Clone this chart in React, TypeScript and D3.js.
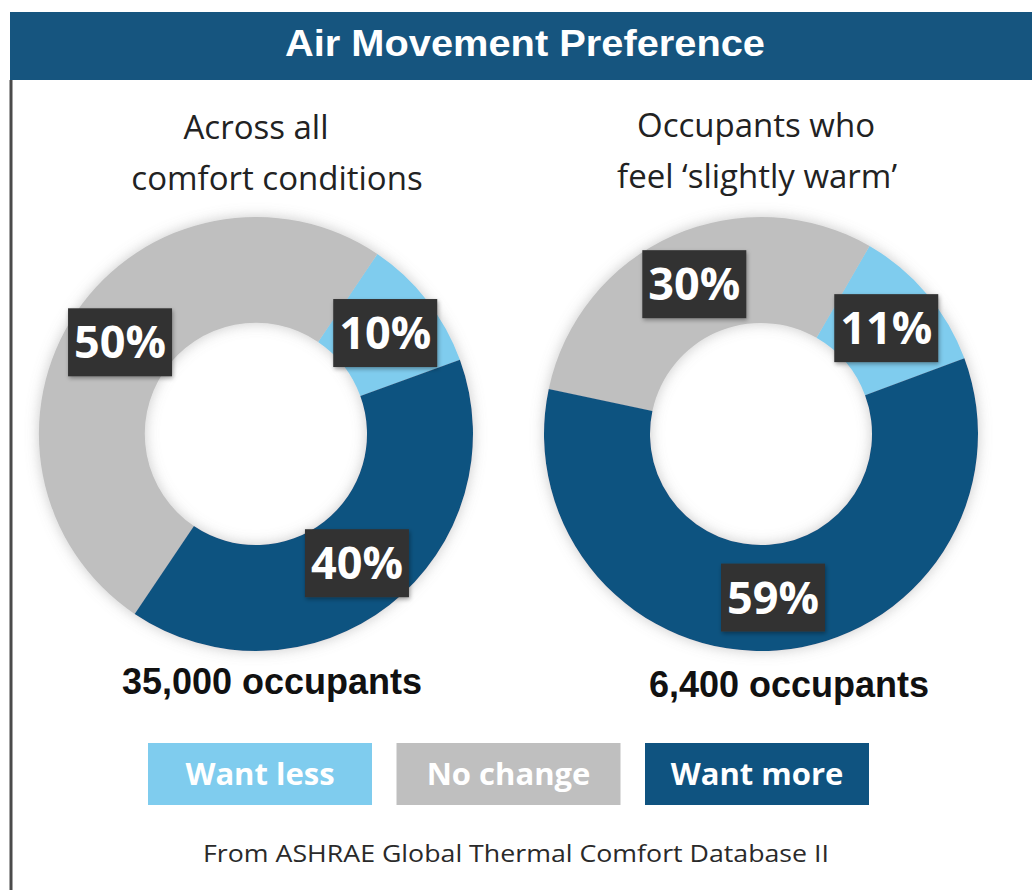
import React from "react";
import * as d3 from "d3";

// legend order
const categories = ["Want less", "No change", "Want more"];
const colors = ["#7fccee", "#bfbfbf", "#0f5380"];

// percent of occupants per category (legend order)
const allConditionsPct = [10, 50, 40];
const slightlyWarmPct = [11, 30, 59];

// clockwise order of slices in the rings
const ringOrder = ["Want less", "Want more", "No change"];

const subtitlesLeft = ["Across all", "comfort conditions"];
const subtitlesRight = ["Occupants who", "feel \u2018slightly warm\u2019"];
const occupantsLeft = "35,000 occupants";
const occupantsRight = "6,400 occupants";

const W = 1032;
const H = 890;
const outerR = 217;
const innerR = 111;

type Slice = { cat: string; value: number; color: string };

const Donut = ({ cx, cy, values, startDeg }: { cx: number; cy: number; values: number[]; startDeg: number }) => {
  const slices: Slice[] = categories.map((c, i) => ({ cat: c, value: values[i], color: colors[i] }));
  const start = (startDeg * Math.PI) / 180;
  const pie = d3
    .pie<Slice>()
    .value((d) => d.value)
    .sort((a, b) => ringOrder.indexOf(a.cat) - ringOrder.indexOf(b.cat))
    .startAngle(start)
    .endAngle(start + 2 * Math.PI);
  const arc = d3.arc<d3.PieArcDatum<Slice>>().innerRadius(innerR).outerRadius(outerR);
  const arcs = pie(slices);

  return (
    <g transform={`translate(${cx},${cy})`}>
      <g filter="url(#ringShadow)">
        {arcs.map((a) => (
          <path key={a.data.cat} d={arc(a) || ""} fill={a.data.color} />
        ))}
      </g>
      {arcs.map((a) => {
        const [x, y] = arc.centroid(a);
        return (
          <g key={"l" + a.data.cat} transform={`translate(${x},${y})`}>
            <rect x={-52} y={-34} width={104} height={68} fill="#333333" filter="url(#boxShadow)" />
            <text
              y={16}
              textAnchor="middle"
              fill="#ffffff"
              fontFamily="'Open Sans', sans-serif"
              fontWeight="bold"
              fontSize={45}
            >
              {a.data.value}%
            </text>
          </g>
        );
      })}
    </g>
  );
};

export default function App() {
  const legendX = d3.scalePoint<string>().domain(categories).range([260, 757]);

  return (
    <svg
      width={W}
      height={H}
      style={{ position: "absolute", left: 0, top: 0, background: "#ffffff" }}
    >
      <defs>
        <filter id="ringShadow" x="-20%" y="-20%" width="140%" height="140%">
          <feDropShadow dx="0" dy="0" stdDeviation="7" floodColor="#888888" floodOpacity="0.45" />
        </filter>
        <filter id="boxShadow" x="-20%" y="-20%" width="140%" height="140%">
          <feDropShadow dx="1" dy="2" stdDeviation="2" floodColor="#000000" floodOpacity="0.35" />
        </filter>
      </defs>

      <rect x={0} y={0} width={W} height={H} fill="#ffffff" />

      {/* header bar */}
      <rect x={10} y={12} width={W - 10} height={68} fill="#16557f" />
      <text
        x={525}
        y={56}
        textAnchor="middle"
        fill="#ffffff"
        fontFamily="'Liberation Sans', Arial, sans-serif"
        fontWeight="bold"
        fontSize={37}
        textLength={480}
        lengthAdjust="spacingAndGlyphs"
      >
        Air Movement Preference
      </text>
      <line x1={11} y1={80} x2={11} y2={H} stroke="#4a4a4a" strokeWidth={3} />

      {/* subtitles */}
      <g fontFamily="'Open Sans', sans-serif" fontSize={33} fill="#222222" textAnchor="middle">
        <text x={256} y={139}>{subtitlesLeft[0]}</text>
        <text x={277} y={190}>{subtitlesLeft[1]}</text>
        <text x={756} y={137}>{subtitlesRight[0]}</text>
        <text x={757} y={188}>{subtitlesRight[1]}</text>
      </g>

      <Donut cx={256} cy={434} values={allConditionsPct} startDeg={34} />
      <Donut cx={761} cy={434} values={slightlyWarmPct} startDeg={30} />

      {/* occupant counts */}
      <g fontFamily="'Liberation Sans', Arial, sans-serif" fontWeight="bold" fontSize={36} fill="#111111" textAnchor="middle">
        <text x={272} y={694}>{occupantsLeft}</text>
        <text x={789} y={697}>{occupantsRight}</text>
      </g>

      {/* legend */}
      {categories.map((c, i) => {
        const x = legendX(c) as number;
        return (
          <g key={c} transform={`translate(${x},${774})`}>
            <rect x={-112} y={-31} width={224} height={62} fill={colors[i]} />
            <text
              y={11}
              textAnchor="middle"
              fill="#ffffff"
              fontFamily="'Open Sans', sans-serif"
              fontWeight="bold"
              fontSize={31}
            >
              {c}
            </text>
          </g>
        );
      })}

      <text
        x={516}
        y={862}
        textAnchor="middle"
        fill="#2a2a2a"
        fontFamily="'Open Sans', sans-serif"
        fontSize={24}
        textLength={626}
        lengthAdjust="spacingAndGlyphs"
      >
        From ASHRAE Global Thermal Comfort Database II
      </text>
    </svg>
  );
}
